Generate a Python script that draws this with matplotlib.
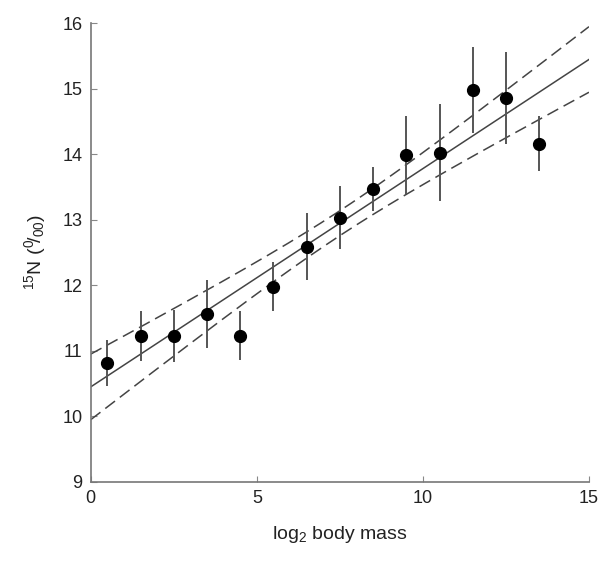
import numpy as np
import matplotlib
matplotlib.use("Agg")
import matplotlib.pyplot as plt

plt.rcParams['font.family'] = ['Liberation Sans', 'DejaVu Sans']
plt.rcParams['mathtext.fontset'] = 'custom'
plt.rcParams['mathtext.rm'] = 'Liberation Sans'
plt.rcParams['mathtext.it'] = 'Liberation Sans:italic'
plt.rcParams['mathtext.bf'] = 'Liberation Sans:bold'

# data
log2_mass = [0.5, 1.5, 2.5, 3.5, 4.5, 5.5, 6.5, 7.5, 8.5, 9.5, 10.5, 11.5, 12.5, 13.5]
d15N = [10.82, 11.23, 11.23, 11.56, 11.23, 11.98, 12.59, 13.03, 13.47, 13.99, 14.02, 14.98, 14.86, 14.16]
err = [0.35, 0.38, 0.40, 0.52, 0.37, 0.38, 0.51, 0.48, 0.34, 0.59, 0.74, 0.65, 0.70, 0.42]

# regression line and confidence band
fit_intercept = 10.45
fit_slope = 0.333
band_center_x = 7.5
band_center_hw = 0.19
band_spread = 0.0617

fig = plt.figure(figsize=(6.01, 5.63), dpi=100)
ax = fig.add_axes([0.151, 0.144, 0.829, 0.815])

xs = np.linspace(0, 15, 200)
yfit = fit_intercept + fit_slope * xs
hw = np.sqrt(band_center_hw**2 + (band_spread * (xs - band_center_x))**2)
line_col = '#444444'
ax.plot(xs, yfit, color=line_col, lw=1.1)
ax.plot(xs, yfit + hw, color=line_col, lw=1.1, dashes=(8, 4))
ax.plot(xs, yfit - hw, color=line_col, lw=1.1, dashes=(8, 4))

ax.errorbar(log2_mass, d15N, yerr=err, fmt='o', color='black', ms=8.5,
            ecolor='#555555', elinewidth=1.4, capsize=0, zorder=5)

ax.set_xlim(0, 15)
ax.set_ylim(9, 16)
ax.set_xticks([0, 5, 10, 15])
ax.set_yticks(range(9, 17))
for s in ['top', 'right']:
    ax.spines[s].set_visible(False)
for s in ['left', 'bottom']:
    ax.spines[s].set_color('#777777')
    ax.spines[s].set_linewidth(1.2)
ax.tick_params(direction='in', length=4, color='#888888', labelsize=13,
               labelcolor='#222222', pad=6)
ax.set_xlabel(r'log$_2$ body mass', fontsize=14, labelpad=12, color='#222222')
ax.set_ylabel(r'$^{15}$N ($^{0}\!/_{00}$)', fontsize=14, labelpad=10, color='#222222')

fig.savefig('out.png', dpi=100)
